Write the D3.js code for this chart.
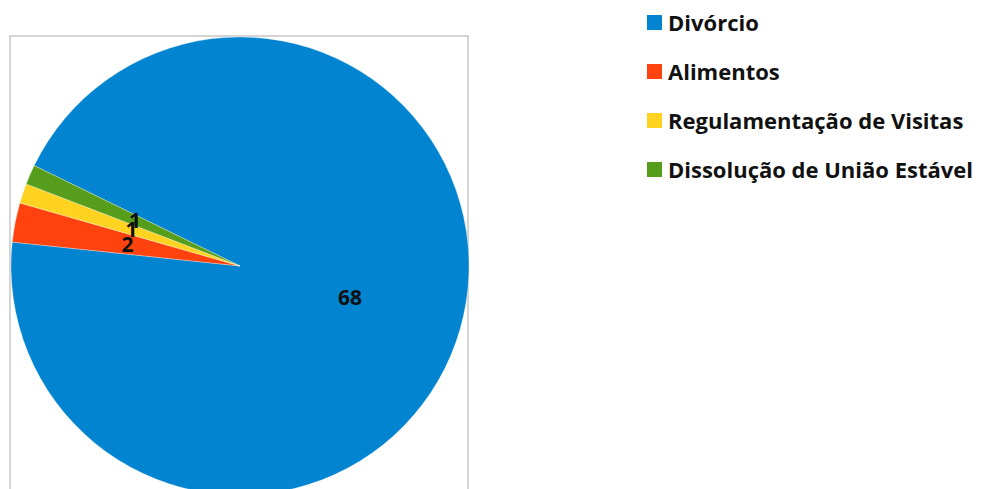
<!DOCTYPE html>
<html>
<head>
<meta charset="utf-8">
<script src="https://cdn.jsdelivr.net/npm/d3@7/dist/d3.min.js"></script>
<style>
  body { margin: 0; background: #fff; }
  svg { display: block; }
</style>
</head>
<body>
<svg id="chart" width="982" height="489"></svg>
<script>
// data
const categories = ["Divórcio", "Alimentos", "Regulamentação de Visitas", "Dissolução de União Estável"];
const values = [68, 2, 1, 1];
const colors = ["#0284d0", "#ff420e", "#ffd320", "#579d1c"];

const svg = d3.select("#chart");

// frame round the plot area
svg.append("rect")
  .attr("x", 10).attr("y", 36)
  .attr("width", 458).attr("height", 470)
  .attr("fill", "none")
  .attr("stroke", "#c6c6c6")
  .attr("stroke-width", 1.5);

const cx = 240, cy = 266, r = 229;
const deg = Math.PI / 180;

const pie = d3.pie()
  .sort(null)
  .value(d => d.v)
  .startAngle(296 * deg)
  .endAngle(296 * deg + 2 * Math.PI);

const data = categories.map((c, i) => ({ c, v: values[i], col: colors[i] }));
const arcs = pie(data);

const arc = d3.arc().innerRadius(0).outerRadius(r);

const g = svg.append("g").attr("transform", `translate(${cx},${cy})`);

g.selectAll("path.slice")
  .data(arcs)
  .join("path")
  .attr("class", "slice")
  .attr("d", arc)
  .attr("fill", d => d.data.col)
  .attr("stroke", "rgba(255,255,255,0.5)")
  .attr("stroke-width", 0.6);

// value labels at centroid (they overlap in the original too)
g.selectAll("text.lbl")
  .data(arcs)
  .join("text")
  .attr("class", "lbl")
  .attr("transform", d => `translate(${arc.centroid(d)})`)
  .attr("text-anchor", "middle")
  .attr("dy", "0.36em")
  .style("font-family", "'Open Sans', sans-serif")
  .style("font-weight", "bold")
  .style("font-size", "21px")
  .attr("fill", "#111")
  .text(d => d.data.v);

// legend
const rows = svg.append("g").selectAll("g")
  .data(data)
  .join("g")
  .attr("transform", (d, i) => `translate(647,${31 + i * 49})`);

rows.append("rect")
  .attr("x", 0).attr("y", -16)
  .attr("width", 15).attr("height", 15)
  .attr("fill", d => d.col);

rows.append("text")
  .attr("x", 21).attr("y", 0)
  .style("font-family", "'Open Sans', sans-serif")
  .style("font-weight", "bold")
  .style("font-size", "22px")
  .attr("fill", "#111")
  .text(d => d.c);
</script>
</body>
</html>
